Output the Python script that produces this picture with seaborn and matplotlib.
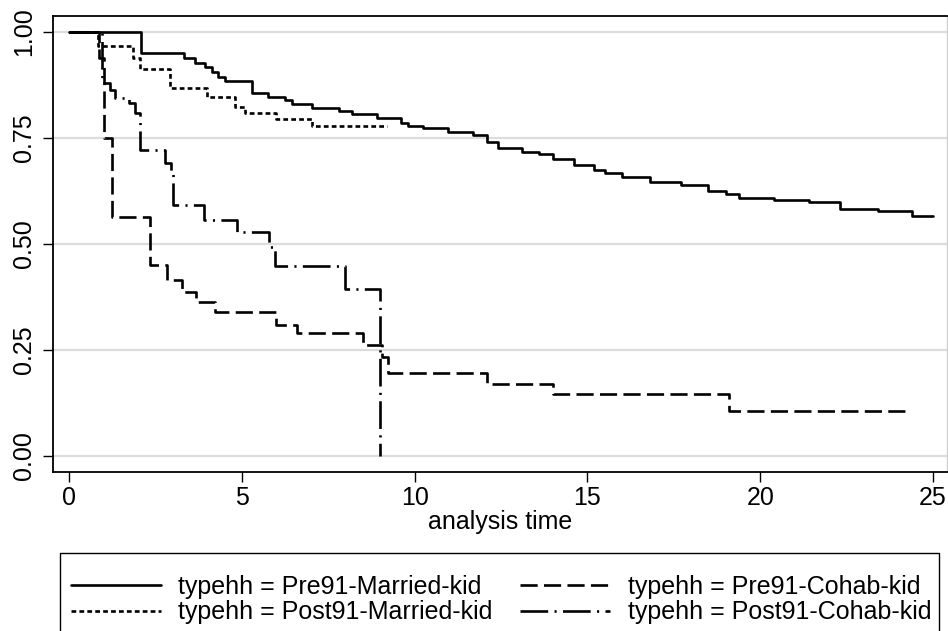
import matplotlib
matplotlib.use("Agg")
import matplotlib.pyplot as plt
import matplotlib.patches as mpatches
import seaborn as sns
import pandas as pd

# ---- data ----
pre91_married_t = [0, 2.08, 3.33, 3.65, 3.94, 4.15, 4.3, 4.5, 5.3, 5.76, 6.25, 6.45, 7.03, 7.8, 8.2, 8.9,
                   9.6, 9.8, 10.25, 10.97, 11.7, 12.1, 12.4, 13.1, 13.6, 14.0, 14.6, 15.2, 15.5, 16.0,
                   16.8, 17.7, 18.5, 19.0, 19.4, 20.4, 21.4, 22.3, 23.4, 24.4, 25.0]
pre91_married_s = [1.0, 0.951, 0.940, 0.928, 0.918, 0.905, 0.895, 0.884, 0.857, 0.847, 0.840, 0.830, 0.821,
                   0.815, 0.806, 0.797, 0.785, 0.778, 0.773, 0.764, 0.757, 0.741, 0.726, 0.717, 0.712,
                   0.700, 0.686, 0.675, 0.667, 0.658, 0.646, 0.639, 0.625, 0.618, 0.608, 0.603, 0.599,
                   0.582, 0.578, 0.566, 0.566]

post91_married_t = [0, 0.85, 1.85, 2.05, 2.92, 4.0, 4.8, 5.1, 6.0, 7.03, 9.2]
post91_married_s = [1.0, 0.967, 0.940, 0.913, 0.868, 0.847, 0.823, 0.809, 0.795, 0.778, 0.778]

pre91_cohab_t = [0, 0.88, 1.0, 1.25, 2.35, 2.83, 3.27, 3.67, 4.22, 6.0, 6.6, 8.5, 9.05, 9.23, 12.1,
                 14.0, 19.1, 24.25]
pre91_cohab_s = [1.0, 0.94, 0.75, 0.564, 0.45, 0.415, 0.387, 0.363, 0.340, 0.309, 0.29, 0.262, 0.234,
                 0.196, 0.170, 0.147, 0.106, 0.106]

post91_cohab_t = [0, 0.95, 1.19, 1.33, 1.74, 1.91, 2.05, 2.78, 2.95, 3.0, 3.9, 4.86, 5.8, 5.96, 8.0, 9.0]
post91_cohab_s = [1.0, 0.88, 0.863, 0.845, 0.832, 0.81, 0.722, 0.69, 0.667, 0.592, 0.557, 0.528, 0.493,
                  0.448, 0.393, 0.0]

group_names = ["typehh = Pre91-Married-kid", "typehh = Post91-Married-kid",
               "typehh = Pre91-Cohab-kid", "typehh = Post91-Cohab-kid"]
x_ticks = [0, 5, 10, 15, 20, 25]
y_ticks = [0.0, 0.25, 0.5, 0.75, 1.0]
y_tick_labels = ["0.00", "0.25", "0.50", "0.75", "1.00"]
x_label = "analysis time"

series = [(pre91_married_t, pre91_married_s), (post91_married_t, post91_married_s),
          (pre91_cohab_t, pre91_cohab_s), (post91_cohab_t, post91_cohab_s)]
frames = []
for name, (t, s) in zip(group_names, series):
    frames.append(pd.DataFrame({"time": t, "surv": s, "typehh": name}))
df = pd.concat(frames, ignore_index=True)

# ---- style ----
sns.set_style("white")
plt.rcParams["font.family"] = ["Liberation Sans", "DejaVu Sans"]
plt.rcParams["text.color"] = "black"
plt.rcParams["axes.labelcolor"] = "black"
plt.rcParams["xtick.color"] = "black"
plt.rcParams["ytick.color"] = "black"

fig = plt.figure(figsize=(9.48, 6.31), dpi=100)
ax = fig.add_axes([53 / 948, 1 - 472 / 631, 894 / 948, 456 / 631])

LW = 1.9
dashes = {
    group_names[0]: "",
    group_names[1]: (1.8, 1.2),
    group_names[2]: (6.5, 2.4),
    group_names[3]: (10.5, 2.4, 0.8, 2.4),
}
palette = {g: "black" for g in group_names}

sns.lineplot(data=df, x="time", y="surv", hue="typehh", style="typehh",
             hue_order=group_names, style_order=group_names,
             palette=palette, dashes=dashes, estimator=None, sort=False,
             drawstyle="steps-post", linewidth=LW, ax=ax, legend=True)

ax.set_xlim(-0.463, 25.405)
ax.set_ylim(-0.038, 1.038)
ax.set_xticks(x_ticks)
ax.set_yticks(y_ticks)
ax.set_yticklabels(y_tick_labels, rotation=90, va="center")
ax.set_xlabel(x_label, fontsize=18, labelpad=0, color="black")
ax.set_ylabel("")
ax.tick_params(axis="both", which="major", bottom=True, left=True, labelsize=18,
               length=7, width=1, color="black", labelcolor="black", direction="out")
ax.tick_params(axis="y", pad=5)
ax.tick_params(axis="x", pad=3)
ax.yaxis.grid(True, color="#dcdcdc", linewidth=1.6)
ax.xaxis.grid(False)
ax.set_axisbelow(True)
for side in ["left", "bottom", "top"]:
    ax.spines[side].set_color("black")
    ax.spines[side].set_linewidth(1.3)
ax.spines["right"].set_color("#d0d0d0")
ax.spines["right"].set_linewidth(1.0)

handles, labels = ax.get_legend_handles_labels()
ax.get_legend().remove()
leg = fig.legend(handles, labels, ncol=2, loc="upper left",
                 bbox_to_anchor=(71 / 948, 1 - 575 / 631),
                 fontsize=18, frameon=False,
                 handlelength=3.6, handletextpad=0.7, columnspacing=1.1,
                 labelspacing=0.05, borderpad=0.0, borderaxespad=0)
for h in leg.get_lines():
    h.set_linewidth(LW)

# legend box (runs off the bottom edge as in the reference)
box = mpatches.Rectangle((60 / 948, -0.05), 879 / 948, (1 - 553 / 631) + 0.05,
                         transform=fig.transFigure, fill=False, edgecolor="black",
                         linewidth=1.0)
fig.patches.append(box)

fig.savefig("out.png", dpi=100)
